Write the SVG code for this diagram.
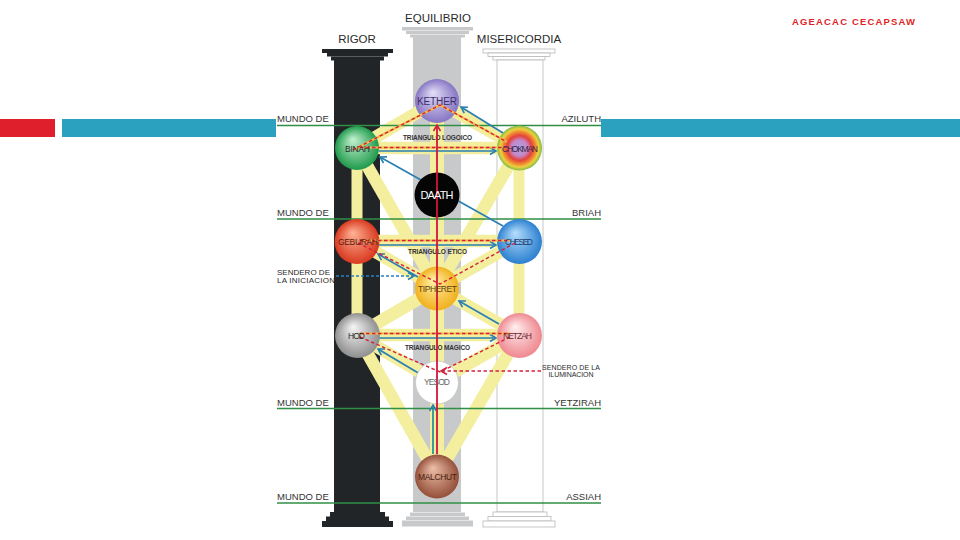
<svg xmlns="http://www.w3.org/2000/svg" width="960" height="540" viewBox="0 0 960 540">
<defs>
<style>
.lbl{font-family:"Liberation Sans",Arial,sans-serif;fill:#2a2a2a}
.col{font-size:11.5px}
.world{font-size:9.5px;fill:#333}
.tri{font-size:6.5px;font-weight:bold;fill:#333}
.sn{font-size:8.5px;text-anchor:middle}
.bar{stroke:#f3ef9f;stroke-width:12.5;fill:none}
.green{stroke:#2f8f45;stroke-width:1.6}
.blue{stroke:#2a7fb3;stroke-width:1.7;fill:none;marker-end:url(#ab)}
.bluedash{stroke:#2a7fc0;stroke-width:1.7;fill:none;stroke-dasharray:3 2;marker-end:url(#ab)}
.under{stroke:#f6bc4a;stroke-width:2;fill:none}
.rdash{stroke:#d4203a;stroke-width:1.4;fill:none;stroke-dasharray:3.5 2.5}
.blk{fill:#222528}
.gry{fill:#c8c9cb}
.wht{fill:#fff;stroke:#b8b8b8;stroke-width:0.8}
</style>
<marker id="ab" viewBox="0 0 10 10" refX="8" refY="5" markerWidth="10" markerHeight="10" markerUnits="userSpaceOnUse" orient="auto"><path d="M2,1.5 L8,5 L2,8.5" fill="none" stroke="#2a7fb3" stroke-width="1.6"/></marker>
<marker id="ar" viewBox="0 0 10 10" refX="8" refY="5" markerWidth="10" markerHeight="10" markerUnits="userSpaceOnUse" orient="auto"><path d="M2,1.5 L8,5 L2,8.5" fill="none" stroke="#d4203a" stroke-width="1.6"/></marker>
<radialGradient id="gK" cx="0.5" cy="0.5" r="0.5" fx="0.4" fy="0.3"><stop offset="0" stop-color="#e4def6"/><stop offset="1" stop-color="#8676c4"/></radialGradient>
<radialGradient id="gB" cx="0.5" cy="0.5" r="0.5" fx="0.4" fy="0.3"><stop offset="0" stop-color="#c4f2d0"/><stop offset="1" stop-color="#1f9a4c"/></radialGradient>
<radialGradient id="gC" cx="0.5" cy="0.5" r="0.5"><stop offset="0" stop-color="#a9a2e6"/><stop offset="0.35" stop-color="#c488c8"/><stop offset="0.55" stop-color="#e4413c"/><stop offset="0.72" stop-color="#f08a30"/><stop offset="0.85" stop-color="#ecd040"/><stop offset="1" stop-color="#7fbb46"/></radialGradient>
<radialGradient id="gG" cx="0.5" cy="0.5" r="0.5" fx="0.4" fy="0.3"><stop offset="0" stop-color="#ffb295"/><stop offset="1" stop-color="#d8391f"/></radialGradient>
<radialGradient id="gCh" cx="0.5" cy="0.5" r="0.5" fx="0.4" fy="0.3"><stop offset="0" stop-color="#b6defc"/><stop offset="1" stop-color="#2b80d0"/></radialGradient>
<radialGradient id="gT" cx="0.5" cy="0.5" r="0.5" fx="0.4" fy="0.3"><stop offset="0" stop-color="#fff1a6"/><stop offset="1" stop-color="#f1b01e"/></radialGradient>
<radialGradient id="gH" cx="0.5" cy="0.5" r="0.5" fx="0.4" fy="0.3"><stop offset="0" stop-color="#f6f6f6"/><stop offset="1" stop-color="#8f8f8f"/></radialGradient>
<radialGradient id="gN" cx="0.5" cy="0.5" r="0.5" fx="0.4" fy="0.3"><stop offset="0" stop-color="#fff0f0"/><stop offset="1" stop-color="#ef8890"/></radialGradient>
<radialGradient id="gM" cx="0.5" cy="0.5" r="0.5" fx="0.4" fy="0.3"><stop offset="0" stop-color="#eebfa8"/><stop offset="1" stop-color="#94503a"/></radialGradient>
</defs>
<rect width="960" height="540" fill="#fff"/>
<g id="header-bars">
<rect x="0" y="119" width="55" height="18" fill="#e01f2d"/>
<rect x="62" y="119" width="214" height="18" fill="#2ba0bf"/>
<rect x="601" y="119" width="359" height="18" fill="#2ba0bf"/>
</g>
<text x="792" y="24.5" font-family="'Liberation Sans',Arial,sans-serif" font-size="9.5" font-weight="bold" fill="#e11f26" textLength="123" lengthAdjust="spacing">AGEACAC CECAPSAW</text>
<g id="pillars">
<g id="pillar-rigor">
<rect class="blk" x="322" y="49" width="71" height="4"/><rect class="blk" x="327" y="53" width="61" height="3.5"/><rect class="blk" x="331" y="56.5" width="53" height="4"/>
<rect class="blk" x="334" y="60" width="46" height="452"/>
<rect class="blk" x="330" y="512" width="55" height="5"/><rect class="blk" x="326" y="516.5" width="63" height="4.5"/><rect class="blk" x="322" y="521" width="71" height="6"/>
</g>
<g id="pillar-equilibrio">
<rect class="gry" x="402" y="27" width="71" height="3.5"/><rect class="gry" x="406" y="31" width="63" height="3"/><rect class="gry" x="410" y="34.5" width="55" height="3"/>
<rect class="gry" x="413" y="37" width="48" height="475"/>
<rect class="gry" x="410" y="512.5" width="55" height="3.5"/><rect class="gry" x="406" y="516.5" width="63" height="3.5"/><rect class="gry" x="402" y="520.5" width="71" height="6"/>
</g>
<g id="pillar-misericordia">
<rect class="wht" x="483" y="49" width="72" height="4"/><rect class="wht" x="488" y="53" width="62" height="3.5"/><rect class="wht" x="493" y="56.5" width="52" height="3.5"/>
<rect class="wht" x="497" y="60" width="46" height="452"/>
<rect class="wht" x="493" y="512" width="54" height="4.5"/><rect class="wht" x="488" y="516.5" width="63" height="4.5"/><rect class="wht" x="483" y="521" width="72" height="6"/>
</g>
<text class="lbl col" x="357" y="42.7" text-anchor="middle">RIGOR</text>
<text class="lbl col" x="438" y="21.7" text-anchor="middle">EQUILIBRIO</text>
<text class="lbl col" x="519" y="42.7" text-anchor="middle">MISERICORDIA</text>
</g>
<g id="connectors-paths">
<line class="bar" x1="437" y1="101" x2="357" y2="148"/>
<line class="bar" x1="437" y1="101" x2="519" y2="148"/>
<line class="bar" x1="357" y1="148" x2="519" y2="148"/>
<line class="bar" x1="357" y1="148" x2="357" y2="241" style="stroke-width:11"/>
<line class="bar" x1="519" y1="148" x2="519" y2="241" style="stroke-width:11"/>
<line class="bar" x1="357" y1="148" x2="437" y2="288"/>
<line class="bar" x1="519" y1="148" x2="437" y2="288"/>
<line class="bar" x1="357" y1="241" x2="519" y2="241"/>
<line class="bar" x1="357" y1="241" x2="437" y2="288"/>
<line class="bar" x1="519" y1="241" x2="437" y2="288"/>
<line class="bar" x1="357" y1="241" x2="357" y2="335" style="stroke-width:11"/>
<line class="bar" x1="519" y1="241" x2="519" y2="335" style="stroke-width:11"/>
<line class="bar" x1="437" y1="288" x2="357" y2="335"/>
<line class="bar" x1="437" y1="288" x2="519" y2="335"/>
<line class="bar" x1="357" y1="335" x2="519" y2="335"/>
<line class="bar" x1="357" y1="335" x2="437" y2="382"/>
<line class="bar" x1="519" y1="335" x2="437" y2="382"/>
<line class="bar" x1="357" y1="335" x2="437" y2="476"/>
<line class="bar" x1="519" y1="335" x2="437" y2="476"/>
<line class="bar" x1="437" y1="101" x2="437" y2="476" style="stroke-width:14"/>
</g>
<g id="world-lines">
<line class="green" x1="277" y1="125.5" x2="601" y2="125.5"/>
<line class="green" x1="277" y1="219" x2="601" y2="219"/>
<line class="green" x1="277" y1="408.5" x2="601" y2="408.5"/>
<line class="green" x1="277" y1="503" x2="601" y2="503"/>
<text class="lbl world" x="277" y="122">MUNDO DE</text><text class="lbl world" x="601" y="122" text-anchor="end">AZILUTH</text>
<text class="lbl world" x="277" y="215.5">MUNDO DE</text><text class="lbl world" x="601" y="215.5" text-anchor="end">BRIAH</text>
<text class="lbl world" x="277" y="405.5">MUNDO DE</text><text class="lbl world" x="601" y="405.5" text-anchor="end">YETZIRAH</text>
<text class="lbl world" x="277" y="499.7">MUNDO DE</text><text class="lbl world" x="601" y="499.7" text-anchor="end">ASSIAH</text>
</g>
<g id="triangle-labels">
<text class="lbl tri" x="437.5" y="139.5" text-anchor="middle" textLength="69">TRIANGULO LOGOICO</text>
<text class="lbl tri" x="437.5" y="254" text-anchor="middle" textLength="59">TRIANGULO ETICO</text>
<text class="lbl tri" x="437.5" y="349.5" text-anchor="middle" textLength="65">TRIANGULO MAGICO</text>
</g>
<g id="connectors-blue">
<line class="blue" x1="503" y1="226" x2="380" y2="157"/>
<line class="blue" x1="503" y1="133" x2="461" y2="107"/>
<line class="blue" x1="379" y1="151" x2="496" y2="151"/>
<line class="blue" x1="379" y1="245" x2="496" y2="245"/>
<line class="blue" x1="418" y1="277" x2="378" y2="254"/>
<line class="blue" x1="499" y1="324" x2="459" y2="301"/>
<line class="blue" x1="379" y1="338" x2="496" y2="338"/>
<line class="blue" x1="420" y1="374" x2="378" y2="349"/>
<line class="blue" x1="433" y1="454" x2="433" y2="405" style="stroke:#1f8f98"/>
<line class="bluedash" x1="336" y1="276" x2="414" y2="276"/>
</g>
<g id="node-kether"><circle cx="437" cy="101" r="22" fill="url(#gK)"/></g>
<g id="node-binah"><circle cx="357" cy="148" r="22" fill="url(#gB)"/></g>
<g id="node-chokman"><circle cx="519.5" cy="148" r="22.5" fill="url(#gC)"/></g>
<g id="node-daath"><circle cx="437" cy="195" r="22.5" fill="#050505"/></g>
<g id="node-geburah"><circle cx="357" cy="241.5" r="22.5" fill="url(#gG)"/></g>
<g id="node-chesed"><circle cx="519.5" cy="241.5" r="22.5" fill="url(#gCh)"/></g>
<g id="node-tipheret"><circle cx="437" cy="288.5" r="22" fill="url(#gT)"/></g>
<g id="node-hod"><circle cx="357.5" cy="335.5" r="22.5" fill="url(#gH)"/></g>
<g id="node-netzah"><circle cx="519.5" cy="335.5" r="22.5" fill="url(#gN)"/></g>
<g id="node-yesod"><circle cx="437" cy="382.5" r="21.5" fill="#fff" stroke="#c4c4c4" stroke-width="0.8"/></g>
<g id="node-malchut"><circle cx="437" cy="476.5" r="22" fill="url(#gM)"/></g>
<g id="connectors-flows">
<polyline class="under" points="353,150 440,105 507,142"/>
<polyline class="rdash" points="353,150 440,105 507,142"/>
<line class="under" x1="360" y1="147.5" x2="507" y2="147.5"/>
<line class="rdash" x1="360" y1="147.5" x2="507" y2="147.5"/>
<line class="under" x1="360" y1="240.5" x2="510" y2="240.5"/>
<line class="rdash" x1="360" y1="240.5" x2="510" y2="240.5"/>
<polyline class="rdash" points="358,243 440,284 515,243"/>
<line class="under" x1="360" y1="333.5" x2="510" y2="333.5"/>
<line class="rdash" x1="360" y1="333.5" x2="510" y2="333.5"/>
<polyline class="rdash" points="360,337 440,372 510,337"/>
<line x1="437" y1="454" x2="437" y2="125" stroke="#d4153a" stroke-width="1.8" marker-end="url(#ar)"/>
<line class="rdash" x1="541" y1="371" x2="441" y2="371" marker-end="url(#ar)"/>
</g>
<g id="node-labels">
<text class="lbl sn" x="437" y="105" style="font-size:10px;fill:#3b2d6b" textLength="40">KETHER</text>
<text class="lbl sn" x="357.5" y="151.5" textLength="25">BINAH</text>
<text class="lbl sn" x="520" y="151.5" style="fill:#3a2440" textLength="36">CHOKMAN</text>
<text class="lbl sn" x="437" y="199" style="font-size:11px;fill:#fff" textLength="33">DAATH</text>
<text class="lbl sn" x="358" y="245" style="fill:#5a1c10" textLength="40">GEBURAH</text>
<text class="lbl sn" x="519" y="245" style="fill:#1e3f70" textLength="28">CHESED</text>
<text class="lbl sn" x="437.5" y="292" style="fill:#5b3f10" textLength="39">TIPHERET</text>
<text class="lbl sn" x="356.5" y="339" textLength="17">HOD</text>
<text class="lbl sn" x="517.5" y="339" style="fill:#6a2a30" textLength="29">NETZAH</text>
<text class="lbl sn" x="437" y="385" style="fill:#666" textLength="26">YESOD</text>
<text class="lbl sn" x="437.5" y="479.5" style="fill:#4a1e10" textLength="39">MALCHUT</text>
</g>
<g id="path-labels">
<text class="lbl" x="277" y="275" style="font-size:8px" textLength="53">SENDERO DE</text>
<text class="lbl" x="277" y="283" style="font-size:8px" textLength="58">LA INICIACION</text>
<text class="lbl" x="571" y="369.5" text-anchor="middle" style="font-size:7px" textLength="58">SENDERO DE LA</text>
<text class="lbl" x="571" y="377" text-anchor="middle" style="font-size:7px" textLength="45">ILUMINACION</text>
</g>
</svg>
